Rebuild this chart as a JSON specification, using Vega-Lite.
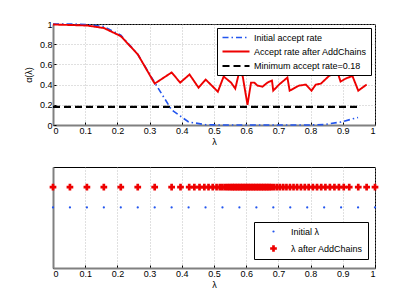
{
  "$schema": "https://vega.github.io/schema/vega-lite/v6.json",
  "padding": {"left": 23, "top": 19, "right": 5, "bottom": 5},
  "spacing": 42,
  "bounds": "flush",
  "background": "white",
  "config": {
    "font": "Liberation Sans",
    "view": {"stroke": "#000000", "strokeWidth": 1},
    "axis": {
      "labelFont": "Liberation Sans",
      "labelFontSize": 9,
      "labelColor": "#000000",
      "titleFont": "Liberation Sans",
      "titleFontSize": 9,
      "titleFontWeight": "normal",
      "titleColor": "#000000",
      "domainColor": "#808080",
      "domainWidth": 2,
      "tickColor": "#000000",
      "tickSize": -3,
      "gridColor": "#b0b0b0",
      "gridDash": [1, 2],
      "gridWidth": 0.8
    },
    "legend": {
      "labelFont": "Liberation Sans",
      "labelFontSize": 9,
      "labelColor": "#000000",
      "labelLimit": 0,
      "fillColor": "white",
      "strokeColor": "#000000"
    }
  },
  "datasets": {
    "rates": [
      {"series": "Minimum accept rate=0.18", "lam": 0, "rate": 0.18},
      {"series": "Minimum accept rate=0.18", "lam": 0.947, "rate": 0.18},
      {"series": "Initial accept rate", "lam": 0, "rate": 1.0},
      {"series": "Initial accept rate", "lam": 0.0526, "rate": 1.0},
      {"series": "Initial accept rate", "lam": 0.1053, "rate": 0.995},
      {"series": "Initial accept rate", "lam": 0.1579, "rate": 0.975},
      {"series": "Initial accept rate", "lam": 0.2105, "rate": 0.89},
      {"series": "Initial accept rate", "lam": 0.2632, "rate": 0.7},
      {"series": "Initial accept rate", "lam": 0.3158, "rate": 0.42},
      {"series": "Initial accept rate", "lam": 0.3684, "rate": 0.15},
      {"series": "Initial accept rate", "lam": 0.4211, "rate": 0.03},
      {"series": "Initial accept rate", "lam": 0.4737, "rate": 0.003},
      {"series": "Initial accept rate", "lam": 0.5263, "rate": 0.0},
      {"series": "Initial accept rate", "lam": 0.5789, "rate": 0.0},
      {"series": "Initial accept rate", "lam": 0.6316, "rate": 0.0},
      {"series": "Initial accept rate", "lam": 0.6842, "rate": 0.0},
      {"series": "Initial accept rate", "lam": 0.7368, "rate": 0.0},
      {"series": "Initial accept rate", "lam": 0.7895, "rate": 0.0},
      {"series": "Initial accept rate", "lam": 0.8421, "rate": 0.004},
      {"series": "Initial accept rate", "lam": 0.8947, "rate": 0.03},
      {"series": "Initial accept rate", "lam": 0.9474, "rate": 0.075},
      {"series": "Accept rate after AddChains", "lam": 0, "rate": 0.995},
      {"series": "Accept rate after AddChains", "lam": 0.0526, "rate": 0.99},
      {"series": "Accept rate after AddChains", "lam": 0.1053, "rate": 0.985},
      {"series": "Accept rate after AddChains", "lam": 0.1579, "rate": 0.96},
      {"series": "Accept rate after AddChains", "lam": 0.2105, "rate": 0.88},
      {"series": "Accept rate after AddChains", "lam": 0.2632, "rate": 0.7},
      {"series": "Accept rate after AddChains", "lam": 0.3158, "rate": 0.41},
      {"series": "Accept rate after AddChains", "lam": 0.3684, "rate": 0.52},
      {"series": "Accept rate after AddChains", "lam": 0.395, "rate": 0.42},
      {"series": "Accept rate after AddChains", "lam": 0.424, "rate": 0.5},
      {"series": "Accept rate after AddChains", "lam": 0.452, "rate": 0.37},
      {"series": "Accept rate after AddChains", "lam": 0.474, "rate": 0.45},
      {"series": "Accept rate after AddChains", "lam": 0.49, "rate": 0.4},
      {"series": "Accept rate after AddChains", "lam": 0.512, "rate": 0.33},
      {"series": "Accept rate after AddChains", "lam": 0.53, "rate": 0.48},
      {"series": "Accept rate after AddChains", "lam": 0.553, "rate": 0.42},
      {"series": "Accept rate after AddChains", "lam": 0.566, "rate": 0.36},
      {"series": "Accept rate after AddChains", "lam": 0.578, "rate": 0.52},
      {"series": "Accept rate after AddChains", "lam": 0.589, "rate": 0.485},
      {"series": "Accept rate after AddChains", "lam": 0.604, "rate": 0.2},
      {"series": "Accept rate after AddChains", "lam": 0.615, "rate": 0.42},
      {"series": "Accept rate after AddChains", "lam": 0.625, "rate": 0.42},
      {"series": "Accept rate after AddChains", "lam": 0.635, "rate": 0.39},
      {"series": "Accept rate after AddChains", "lam": 0.651, "rate": 0.38},
      {"series": "Accept rate after AddChains", "lam": 0.666, "rate": 0.42},
      {"series": "Accept rate after AddChains", "lam": 0.68, "rate": 0.44},
      {"series": "Accept rate after AddChains", "lam": 0.684, "rate": 0.34},
      {"series": "Accept rate after AddChains", "lam": 0.702, "rate": 0.4},
      {"series": "Accept rate after AddChains", "lam": 0.728, "rate": 0.47},
      {"series": "Accept rate after AddChains", "lam": 0.735, "rate": 0.34},
      {"series": "Accept rate after AddChains", "lam": 0.764, "rate": 0.39},
      {"series": "Accept rate after AddChains", "lam": 0.785, "rate": 0.4},
      {"series": "Accept rate after AddChains", "lam": 0.803, "rate": 0.34},
      {"series": "Accept rate after AddChains", "lam": 0.816, "rate": 0.4},
      {"series": "Accept rate after AddChains", "lam": 0.832, "rate": 0.41},
      {"series": "Accept rate after AddChains", "lam": 0.857, "rate": 0.485},
      {"series": "Accept rate after AddChains", "lam": 0.883, "rate": 0.53},
      {"series": "Accept rate after AddChains", "lam": 0.893, "rate": 0.43},
      {"series": "Accept rate after AddChains", "lam": 0.909, "rate": 0.46},
      {"series": "Accept rate after AddChains", "lam": 0.93, "rate": 0.485},
      {"series": "Accept rate after AddChains", "lam": 0.948, "rate": 0.34},
      {"series": "Accept rate after AddChains", "lam": 0.974, "rate": 0.4}
    ],
    "lams": [
      {"kind": "Initial λ", "lam": 0, "level": 0},
      {"kind": "Initial λ", "lam": 0.0526, "level": 0},
      {"kind": "Initial λ", "lam": 0.1053, "level": 0},
      {"kind": "Initial λ", "lam": 0.1579, "level": 0},
      {"kind": "Initial λ", "lam": 0.2105, "level": 0},
      {"kind": "Initial λ", "lam": 0.2632, "level": 0},
      {"kind": "Initial λ", "lam": 0.3158, "level": 0},
      {"kind": "Initial λ", "lam": 0.3684, "level": 0},
      {"kind": "Initial λ", "lam": 0.4211, "level": 0},
      {"kind": "Initial λ", "lam": 0.4737, "level": 0},
      {"kind": "Initial λ", "lam": 0.5263, "level": 0},
      {"kind": "Initial λ", "lam": 0.5789, "level": 0},
      {"kind": "Initial λ", "lam": 0.6316, "level": 0},
      {"kind": "Initial λ", "lam": 0.6842, "level": 0},
      {"kind": "Initial λ", "lam": 0.7368, "level": 0},
      {"kind": "Initial λ", "lam": 0.7895, "level": 0},
      {"kind": "Initial λ", "lam": 0.8421, "level": 0},
      {"kind": "Initial λ", "lam": 0.8947, "level": 0},
      {"kind": "Initial λ", "lam": 0.9474, "level": 0},
      {"kind": "Initial λ", "lam": 1.0, "level": 0},
      {"kind": "λ after AddChains", "lam": 0, "level": 1},
      {"kind": "λ after AddChains", "lam": 0.0526, "level": 1},
      {"kind": "λ after AddChains", "lam": 0.1053, "level": 1},
      {"kind": "λ after AddChains", "lam": 0.1579, "level": 1},
      {"kind": "λ after AddChains", "lam": 0.2105, "level": 1},
      {"kind": "λ after AddChains", "lam": 0.2632, "level": 1},
      {"kind": "λ after AddChains", "lam": 0.3158, "level": 1},
      {"kind": "λ after AddChains", "lam": 0.3684, "level": 1},
      {"kind": "λ after AddChains", "lam": 0.396, "level": 1},
      {"kind": "λ after AddChains", "lam": 0.423, "level": 1},
      {"kind": "λ after AddChains", "lam": 0.439, "level": 1},
      {"kind": "λ after AddChains", "lam": 0.455, "level": 1},
      {"kind": "λ after AddChains", "lam": 0.47, "level": 1},
      {"kind": "λ after AddChains", "lam": 0.483, "level": 1},
      {"kind": "λ after AddChains", "lam": 0.496, "level": 1},
      {"kind": "λ after AddChains", "lam": 0.508, "level": 1},
      {"kind": "λ after AddChains", "lam": 0.518, "level": 1},
      {"kind": "λ after AddChains", "lam": 0.526, "level": 1},
      {"kind": "λ after AddChains", "lam": 0.534, "level": 1},
      {"kind": "λ after AddChains", "lam": 0.541, "level": 1},
      {"kind": "λ after AddChains", "lam": 0.547, "level": 1},
      {"kind": "λ after AddChains", "lam": 0.553, "level": 1},
      {"kind": "λ after AddChains", "lam": 0.558, "level": 1},
      {"kind": "λ after AddChains", "lam": 0.563, "level": 1},
      {"kind": "λ after AddChains", "lam": 0.568, "level": 1},
      {"kind": "λ after AddChains", "lam": 0.573, "level": 1},
      {"kind": "λ after AddChains", "lam": 0.578, "level": 1},
      {"kind": "λ after AddChains", "lam": 0.583, "level": 1},
      {"kind": "λ after AddChains", "lam": 0.588, "level": 1},
      {"kind": "λ after AddChains", "lam": 0.593, "level": 1},
      {"kind": "λ after AddChains", "lam": 0.598, "level": 1},
      {"kind": "λ after AddChains", "lam": 0.603, "level": 1},
      {"kind": "λ after AddChains", "lam": 0.608, "level": 1},
      {"kind": "λ after AddChains", "lam": 0.613, "level": 1},
      {"kind": "λ after AddChains", "lam": 0.618, "level": 1},
      {"kind": "λ after AddChains", "lam": 0.623, "level": 1},
      {"kind": "λ after AddChains", "lam": 0.628, "level": 1},
      {"kind": "λ after AddChains", "lam": 0.633, "level": 1},
      {"kind": "λ after AddChains", "lam": 0.638, "level": 1},
      {"kind": "λ after AddChains", "lam": 0.643, "level": 1},
      {"kind": "λ after AddChains", "lam": 0.648, "level": 1},
      {"kind": "λ after AddChains", "lam": 0.653, "level": 1},
      {"kind": "λ after AddChains", "lam": 0.658, "level": 1},
      {"kind": "λ after AddChains", "lam": 0.663, "level": 1},
      {"kind": "λ after AddChains", "lam": 0.668, "level": 1},
      {"kind": "λ after AddChains", "lam": 0.673, "level": 1},
      {"kind": "λ after AddChains", "lam": 0.679, "level": 1},
      {"kind": "λ after AddChains", "lam": 0.687, "level": 1},
      {"kind": "λ after AddChains", "lam": 0.696, "level": 1},
      {"kind": "λ after AddChains", "lam": 0.705, "level": 1},
      {"kind": "λ after AddChains", "lam": 0.715, "level": 1},
      {"kind": "λ after AddChains", "lam": 0.725, "level": 1},
      {"kind": "λ after AddChains", "lam": 0.736, "level": 1},
      {"kind": "λ after AddChains", "lam": 0.747, "level": 1},
      {"kind": "λ after AddChains", "lam": 0.758, "level": 1},
      {"kind": "λ after AddChains", "lam": 0.77, "level": 1},
      {"kind": "λ after AddChains", "lam": 0.782, "level": 1},
      {"kind": "λ after AddChains", "lam": 0.794, "level": 1},
      {"kind": "λ after AddChains", "lam": 0.807, "level": 1},
      {"kind": "λ after AddChains", "lam": 0.82, "level": 1},
      {"kind": "λ after AddChains", "lam": 0.833, "level": 1},
      {"kind": "λ after AddChains", "lam": 0.846, "level": 1},
      {"kind": "λ after AddChains", "lam": 0.86, "level": 1},
      {"kind": "λ after AddChains", "lam": 0.874, "level": 1},
      {"kind": "λ after AddChains", "lam": 0.888, "level": 1},
      {"kind": "λ after AddChains", "lam": 0.903, "level": 1},
      {"kind": "λ after AddChains", "lam": 0.92, "level": 1},
      {"kind": "λ after AddChains", "lam": 0.948, "level": 1},
      {"kind": "λ after AddChains", "lam": 0.974, "level": 1},
      {"kind": "λ after AddChains", "lam": 1.0, "level": 1}
    ]
  },
  "resolve": {
    "scale": {"color": "independent", "shape": "independent", "size": "independent", "strokeDash": "independent", "strokeWidth": "independent", "x": "independent", "y": "independent"},
    "legend": {"color": "independent", "shape": "independent", "size": "independent", "strokeDash": "independent"}
  },
  "vconcat": [
    {
      "width": 322,
      "height": 101,
      "data": {"name": "rates"},
      "mark": {"type": "line", "strokeCap": "butt"},
      "encoding": {
        "x": {
          "field": "lam", "type": "quantitative",
          "scale": {"domain": [0, 1], "nice": false},
          "axis": {"values": [0, 0.1, 0.2, 0.3, 0.4, 0.5, 0.6, 0.7, 0.8, 0.9, 1], "format": "~g", "title": "λ", "titlePadding": 2, "labelPadding": 4}
        },
        "y": {
          "field": "rate", "type": "quantitative",
          "scale": {"domain": [0, 1], "nice": false},
          "axis": {"values": [0, 0.2, 0.4, 0.6, 0.8, 1], "format": "~g", "title": "α(λ)", "titlePadding": 6, "labelPadding": 4}
        },
        "color": {
          "field": "series", "type": "nominal",
          "scale": {"domain": ["Initial accept rate", "Accept rate after AddChains", "Minimum accept rate=0.18"], "range": ["#2255ee", "#ee0000", "#000000"]},
          "legend": {"title": null, "orient": "none", "legendX": 164, "legendY": 4, "symbolType": "M-3,0H3", "symbolSize": 81, "symbolStrokeWidth": 2, "symbolOffset": 9, "padding": 4, "labelOffset": 12, "rowPadding": 3}
        },
        "strokeDash": {
          "field": "series", "type": "nominal",
          "scale": {"domain": ["Initial accept rate", "Accept rate after AddChains", "Minimum accept rate=0.18"], "range": [[6, 3, 1.5, 3], [1, 0], [7, 4]]},
          "legend": {"title": null, "orient": "none", "legendX": 164, "legendY": 4, "symbolType": "M-3,0H3", "symbolSize": 81, "symbolStrokeWidth": 2, "symbolOffset": 9, "padding": 4, "labelOffset": 12, "rowPadding": 3}
        },
        "strokeWidth": {
          "field": "series", "type": "nominal",
          "scale": {"domain": ["Initial accept rate", "Accept rate after AddChains", "Minimum accept rate=0.18"], "range": [1.6, 2.2, 2.2]},
          "legend": null
        },
        "order": {"field": "lam", "type": "quantitative"}
      }
    },
    {
      "width": 322,
      "height": 101,
      "data": {"name": "lams"},
      "mark": {"type": "point", "filled": true, "opacity": 1},
      "encoding": {
        "x": {
          "field": "lam", "type": "quantitative",
          "scale": {"domain": [0, 1], "nice": false},
          "axis": {"values": [0, 0.1, 0.2, 0.3, 0.4, 0.5, 0.6, 0.7, 0.8, 0.9, 1], "format": "~g", "title": "λ", "titlePadding": 2, "labelPadding": 4}
        },
        "y": {
          "field": "level", "type": "quantitative",
          "scale": {"domain": [-3, 2], "nice": false},
          "axis": {"title": null, "labels": false, "ticks": false, "grid": false}
        },
        "color": {
          "field": "kind", "type": "nominal",
          "scale": {"domain": ["Initial λ", "λ after AddChains"], "range": ["#2255ee", "#ee0000"]},
          "legend": {"title": null, "orient": "none", "legendX": 201, "legendY": 55, "padding": 5, "labelOffset": 13, "symbolOffset": 10, "rowPadding": 7}
        },
        "shape": {
          "field": "kind", "type": "nominal",
          "scale": {"domain": ["Initial λ", "λ after AddChains"], "range": ["circle", "cross"]},
          "legend": {"title": null, "orient": "none", "legendX": 201, "legendY": 55, "padding": 5, "labelOffset": 13, "symbolOffset": 10, "rowPadding": 7}
        },
        "size": {
          "field": "kind", "type": "nominal",
          "scale": {"domain": ["Initial λ", "λ after AddChains"], "range": [5, 45]},
          "legend": {"title": null, "orient": "none", "legendX": 201, "legendY": 55, "padding": 5, "labelOffset": 13, "symbolOffset": 10, "rowPadding": 7}
        }
      }
    }
  ]
}
